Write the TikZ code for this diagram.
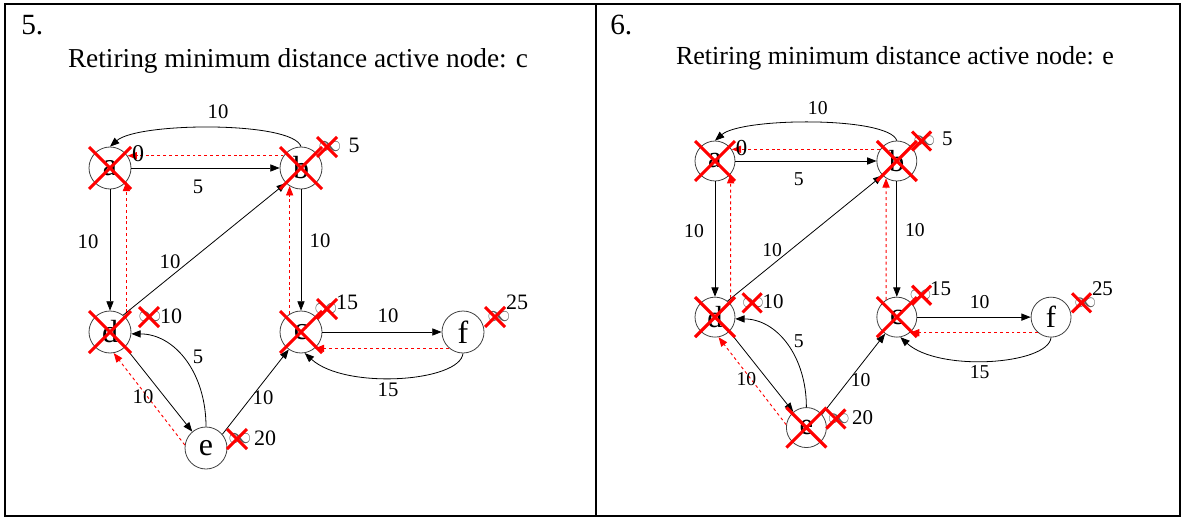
\documentclass[tikz,border=0pt]{standalone}
\usepackage{fontspec}
\setmainfont{Liberation Serif}
\usetikzlibrary{arrows.meta}
\tikzset{
  vert/.style={circle,draw=black!75,line width=0.6pt,minimum size=31.5pt,inner sep=0pt,font=\fontsize{24}{24}\selectfont},
  edge/.style={draw=black,line width=0.6pt,-{Triangle[length=7pt,width=5.4pt]}},
  pred/.style={draw=red,line width=0.7pt,dash pattern=on 2.2pt off 2.2pt,-{Triangle[length=7pt,width=5.4pt,fill=red]}},
  elabel/.style={inner sep=0pt,font=\fontsize{15.5}{15.5}\selectfont},
  dlabel/.style={inner sep=0pt,font=\fontsize{16.5}{16.5}\selectfont},
  inf/.style={inner sep=0pt,text=black!65,font=\fontsize{19}{19}\selectfont},
  bigx/.style={draw=red,line width=2.3pt},
  smallx/.style={draw=red,line width=2.3pt},
  frame/.style={draw=black,line width=1.6pt},
  hdr/.style={inner sep=0pt,font=\fontsize{22}{22}\selectfont},
  ttl/.style={inner sep=0pt,font=\fontsize{20.5}{20.5}\selectfont}
}
\newcommand\bigX[1]{\draw[bigx] (#1.center) +(-21,-21) -- +(21,21) +(21,-21) -- +(-21,21);}
\newcommand\graphpanel[1]{%
  \node[vert] (a) at (0,0) {a};
  \node[vert] (b) at (191,0) {b};
  \node[vert] (d) at (0,164) {d};
  \node[vert] (c) at (191,164) {c};
  \node[vert] (f) at (353,164) {f};
  \node[vert] (e) at (96,280) {e};
  % edges
  \draw[edge] (a.east) -- (b.west);
  \draw[edge] (b.north) .. controls (183,-47) and (28,-46) .. (a.north);
  \draw[edge] (a.south) -- (d.north);
  \draw[edge] (d.52) -- (b.225);
  \draw[edge] (b.south) -- (c.north);
  \draw[edge] (c.east) -- (f.west);
  \draw[edge] (f.south) .. controls (350,214) and (235,222) .. (c.-80);
  \draw[edge] (d.-45) -- (e.130);
  \draw[edge] (e.north) .. controls (96,205) and (65,166) .. (d.-5);
  \draw[edge] (e.40) -- (c.235);
  % predecessor edges
  \draw[pred] (b.145) -- (a.35);
  \draw[pred] (d.40) -- (a.-40);
  \draw[pred] (c.122) -- (b.-122);
  \draw[pred] (f.230) -- (c.-50);
  \draw[pred] (e.172) -- (d.-80);
  % edge labels
  \node[elabel] (lba) at (108,-56) {10};
  \node[elabel] (lab) at (88,19) {5};
  \node[elabel] (lad) at (-22,74) {10};
  \node[elabel] (ldb) at (60,94) {10};
  \node[elabel] (lbc) at (210,73) {10};
  \node[elabel] (lcf) at (278,148) {10};
  \node[elabel] (lfc) at (278,222) {15};
  \node[elabel] (lec) at (153,230) {10};
  \node[elabel] (lde) at (33,229) {10};
  \node[elabel] (led) at (88,189) {5};
  % infinity marks
  \node[inf] (ib) at (220,-21) {$\infty$};
  \node[inf] (id) at (40,149) {$\infty$};
  \node[inf] (ic) at (216,141) {$\infty$};
  \node[inf] (if) at (389,149) {$\infty$};
  \node[inf] (ie) at (130,271) {$\infty$};
  % distance labels
  \node[dlabel,font=\fontsize{18}{18}\selectfont] (da) at (28,-14) {0};
  \node[dlabel] (db) at (244,-23) {5};
  \node[dlabel] (dd) at (61,148) {10};
  \node[dlabel] (dc) at (237,134) {15};
  \node[dlabel] (df) at (407,134) {25};
  \node[dlabel] (de) at (155,270) {20};
  % crosses
  \draw[smallx] (ib.center) ++(-3,0) +(-10,-10) -- +(10,10) +(10,-10) -- +(-10,10);
  \draw[smallx] (id.center) ++(-1,0) +(-10,-10) -- +(10,10) +(10,-10) -- +(-10,10);
  \draw[smallx] (ic.center) ++(1,0) +(-10,-10) -- +(10,10) +(10,-10) -- +(-10,10);
  \draw[smallx] (if.center) ++(-4,0) +(-10,-10) -- +(10,10) +(10,-10) -- +(-10,10);
  \draw[smallx] (ie.center) ++(-3,0) +(-10,-10) -- +(10,10) +(10,-10) -- +(-10,10);
  \bigX{a}\bigX{b}\bigX{c}\bigX{d}#1
}
\begin{document}
\begin{tikzpicture}[x=0.75pt,y=-0.75pt]
\useasboundingbox (0,0) rectangle (1182,517);
\draw[frame] (5,4) rectangle (1180,516);
\draw[frame] (596,4) -- (596,516);
\node[hdr,anchor=base west] (h5) at (21,35) {5.};
\node[hdr,anchor=base west] (h6) at (610,35) {6.};
\node[ttl,anchor=base] (t5) at (298,68) {Retiring minimum distance active node: c};
\node[ttl,anchor=base,scale=0.952] (t6) at (895,65) {Retiring minimum distance active node: e};
\begin{scope}[shift={(110,168)},name prefix=L-]
  \graphpanel{}
\end{scope}
\begin{scope}[shift={(715,161)},scale=0.952,transform shape,name prefix=R-]
  \graphpanel{\bigX{e}}
\end{scope}
\end{tikzpicture}
\end{document}
